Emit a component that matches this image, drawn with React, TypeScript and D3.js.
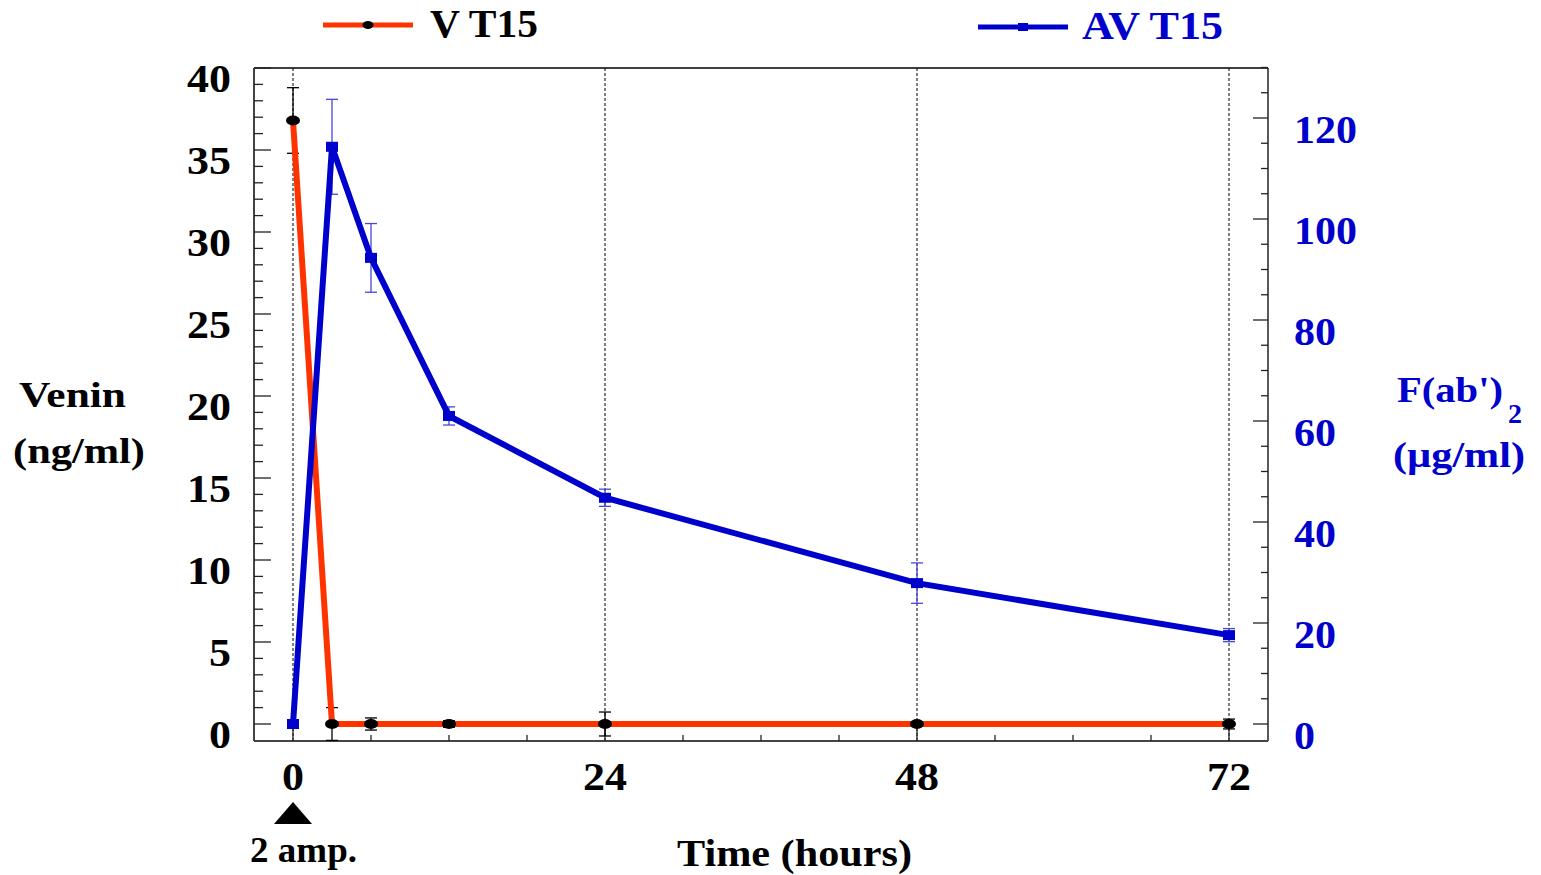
import React from "react";
import * as d3 from "d3";

const times = [0, 3, 6, 12, 24, 48, 72];
const venin = [36.8, 0, 0, 0, 0, 0, 0];
const veninErr = [2.0, 1.0, 0.37, 0.2, 0.73, 0, 0.3];
const fab = [0, 114.3, 92.3, 61, 44.8, 27.9, 17.6];
const fabErr = [0, 9.4, 6.8, 1.8, 1.7, 4.0, 1.3];

const xMajorTicks = [0, 24, 48, 72];
const leftMajorTicks = [0, 5, 10, 15, 20, 25, 30, 35, 40];
const rightMajorTicks = [0, 20, 40, 60, 80, 100, 120];

const RED = "#ff3300";
const BLUE = "#0000cc";
const EBLUE = "#4646dc";
const FONT = "'Times New Roman', Tinos, 'Liberation Serif', Times, serif";

export default function App() {
  const left = 254, right = 1268, top = 68, bottom = 741;
  const x = d3.scaleLinear().domain([-3, 75]).range([left, right]);
  const yL = d3.scaleLinear().domain([0, 40]).range([724, 68]);
  const yR = d3.scaleLinear().domain([0, 120]).range([724, 118]);

  const leftMinor = d3.range(0, 41, 1);
  const rightMinor = d3.range(0, 131, 5);
  const xMinor = d3.range(0, 73, 6);

  const redLine = d3.line<number>().x((_, i) => x(times[i])).y((d) => yL(d))(venin) || "";
  const blueLine = d3.line<number>().x((_, i) => x(times[i])).y((d) => yR(d))(fab) || "";

  const textStyle = { style: { fontFamily: FONT, fontWeight: 700 } };

  return (
    <svg width={1541} height={875} style={{ position: "absolute", left: 0, top: 0, background: "#fff" }}>
      <rect x={0} y={0} width={1541} height={875} fill="#fff" />
      {xMajorTicks.map((t) => (
        <line key={"g" + t} x1={x(t)} x2={x(t)} y1={top} y2={bottom} stroke="#000" strokeWidth={1} strokeDasharray="3,2" />
      ))}
      <line x1={left} x2={right} y1={top} y2={top} stroke="#000" strokeWidth={1.3} />
      <line x1={right} x2={right} y1={top} y2={bottom} stroke="#000" strokeWidth={1.3} />
      <line x1={left} x2={left} y1={top} y2={bottom} stroke="#444" strokeWidth={2} />
      <line x1={left} x2={right} y1={bottom} y2={bottom} stroke="#444" strokeWidth={2} />
      {leftMinor.map((v) => (
        <line key={"lt" + v} x1={left} x2={left + (v % 5 === 0 ? 17 : 9)} y1={yL(v)} y2={yL(v)} stroke="#222" strokeWidth={1.3} />
      ))}
      {rightMinor.map((v) => (
        <line key={"rt" + v} x1={right} x2={right - (v % 20 === 0 ? 15 : 7)} y1={yR(v)} y2={yR(v)} stroke="#222" strokeWidth={1.3} />
      ))}
      {xMinor.map((t) => (
        <line key={"bt" + t} x1={x(t)} x2={x(t)} y1={bottom} y2={bottom - (t % 24 === 0 ? 16 : 6)} stroke="#222" strokeWidth={1.3} />
      ))}
      {leftMajorTicks.map((v) => (
        <text key={"ll" + v} x={231} y={yL(v) + 24} textAnchor="end" fontSize={40} {...textStyle}
          textLength={String(v).length * 22} lengthAdjust="spacingAndGlyphs">{v}</text>
      ))}
      {rightMajorTicks.map((v) => (
        <text key={"rl" + v} x={1294} y={yR(v) + 25} fontSize={40} fill={BLUE} {...textStyle}
          textLength={String(v).length * 21} lengthAdjust="spacingAndGlyphs">{v}</text>
      ))}
      {xMajorTicks.map((t) => (
        <text key={"bl" + t} x={x(t)} y={790} textAnchor="middle" fontSize={40} {...textStyle}
          textLength={String(t).length * 22} lengthAdjust="spacingAndGlyphs">{t}</text>
      ))}
      {times.map((t, i) => veninErr[i] > 0 ? (
        <g key={"ve" + i} stroke="#000" strokeWidth={1.3}>
          <line x1={x(t)} x2={x(t)} y1={yL(venin[i] - veninErr[i])} y2={yL(venin[i] + veninErr[i])} />
          <line x1={x(t) - 6} x2={x(t) + 6} y1={yL(venin[i] + veninErr[i])} y2={yL(venin[i] + veninErr[i])} />
          <line x1={x(t) - 6} x2={x(t) + 6} y1={yL(venin[i] - veninErr[i])} y2={yL(venin[i] - veninErr[i])} />
        </g>
      ) : null)}
      {times.map((t, i) => fabErr[i] > 0 ? (
        <g key={"fe" + i} stroke={EBLUE} strokeWidth={1.3}>
          <line x1={x(t)} x2={x(t)} y1={yR(fab[i] - fabErr[i])} y2={yR(fab[i] + fabErr[i])} />
          <line x1={x(t) - 6} x2={x(t) + 6} y1={yR(fab[i] + fabErr[i])} y2={yR(fab[i] + fabErr[i])} />
          <line x1={x(t) - 6} x2={x(t) + 6} y1={yR(fab[i] - fabErr[i])} y2={yR(fab[i] - fabErr[i])} />
        </g>
      ) : null)}
      <path d={redLine} fill="none" stroke={RED} strokeWidth={6} strokeLinejoin="miter" />
      <path d={blueLine} fill="none" stroke={BLUE} strokeWidth={6} strokeLinejoin="miter" />
      {times.map((t, i) => (
        <ellipse key={"vm" + i} cx={x(t)} cy={yL(venin[i])} rx={7} ry={5} fill="#000" />
      ))}
      {times.map((t, i) => (
        <rect key={"fm" + i} x={x(t) - 6} y={yR(fab[i]) - 5} width={12} height={10} fill={BLUE} />
      ))}
      <line x1={323} x2={413} y1={25} y2={25} stroke={RED} strokeWidth={5} />
      <ellipse cx={368} cy={25} rx={5.5} ry={4} fill="#000" />
      <text x={430} y={37} fontSize={40} {...textStyle} textLength={108} lengthAdjust="spacingAndGlyphs">V T15</text>
      <line x1={978} x2={1068} y1={27} y2={27} stroke={BLUE} strokeWidth={5} />
      <rect x={1018} y={23} width={10} height={8} fill={BLUE} />
      <text x={1082} y={39} fontSize={40} fill={BLUE} {...textStyle} textLength={141} lengthAdjust="spacingAndGlyphs">AV T15</text>
      <text x={19} y={407} fontSize={36} {...textStyle} textLength={107} lengthAdjust="spacingAndGlyphs">Venin</text>
      <text x={13} y={463} fontSize={36} {...textStyle} textLength={132} lengthAdjust="spacingAndGlyphs">(ng/ml)</text>
      <text x={1397} y={402} fontSize={36} fill={BLUE} {...textStyle} textLength={106} lengthAdjust="spacingAndGlyphs">F(ab')</text>
      <text x={1508} y={423} fontSize={28} fill={BLUE} {...textStyle}>2</text>
      <text x={1393} y={467} fontSize={36} fill={BLUE} {...textStyle} textLength={132} lengthAdjust="spacingAndGlyphs">(µg/ml)</text>
      <text x={677} y={866} fontSize={38} {...textStyle} textLength={235} lengthAdjust="spacingAndGlyphs">Time (hours)</text>
      <path d={`M${x(0)},802 L${x(0) + 19},824 L${x(0) - 19},824 Z`} fill="#000" />
      <text x={250} y={862} fontSize={36} {...textStyle} textLength={107} lengthAdjust="spacingAndGlyphs">2 amp.</text>
    </svg>
  );
}
